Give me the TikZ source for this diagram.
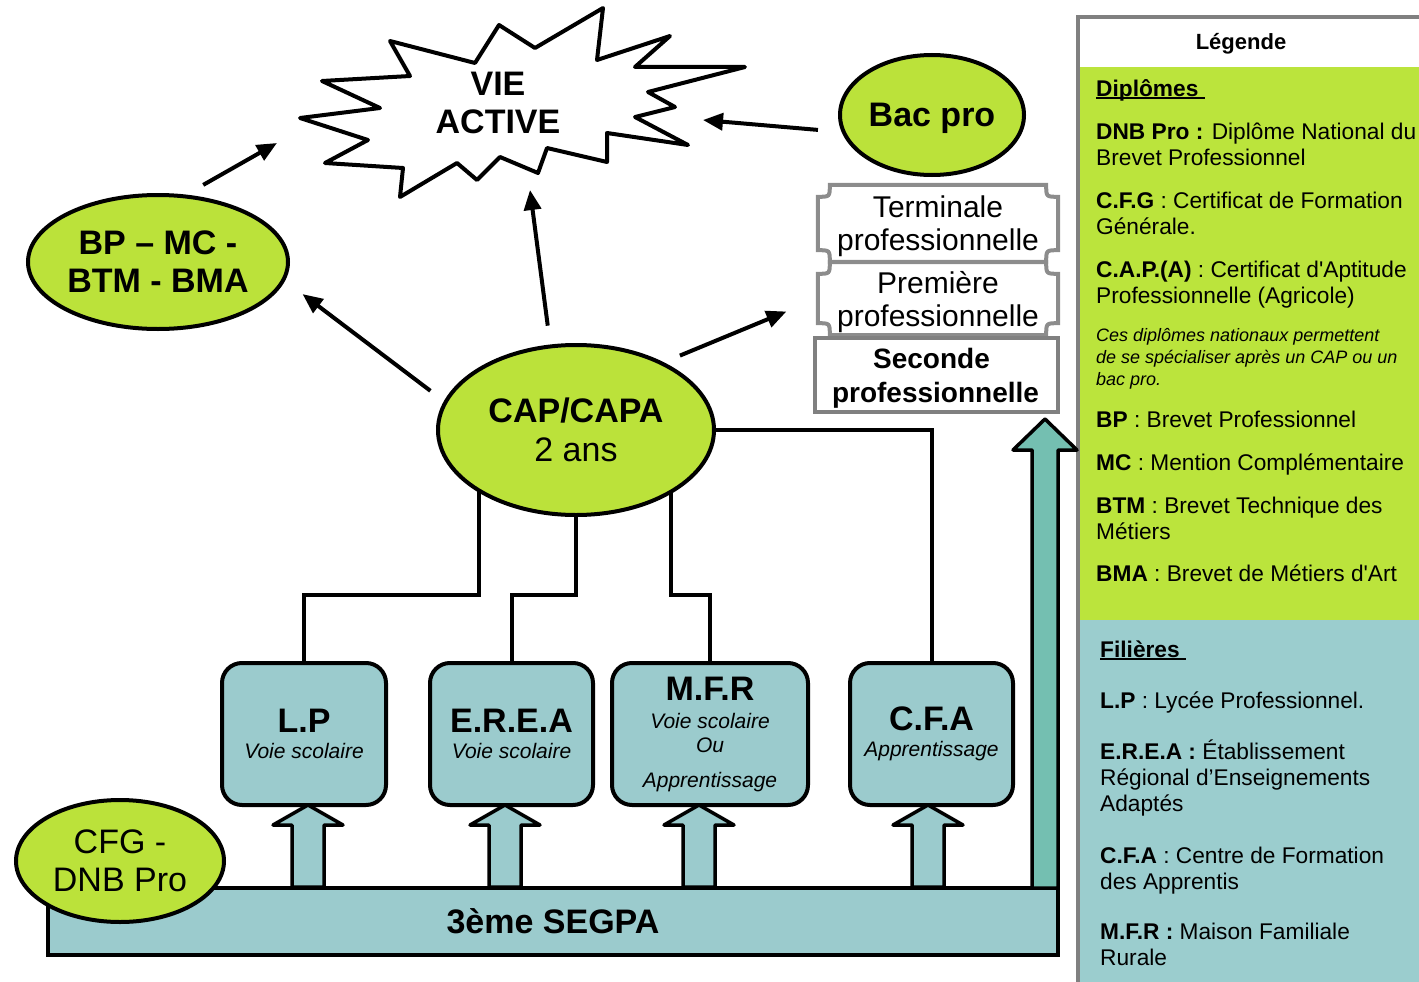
\documentclass[tikz,border=0pt]{standalone}
\usepackage{fontspec}
\setmainfont{Liberation Sans}
\usetikzlibrary{arrows.meta,shapes.geometric,calc}
\definecolor{lime}{RGB}{187,226,58}
\definecolor{tealbox}{RGB}{155,203,205}
\definecolor{tealarrow}{RGB}{116,191,177}
\definecolor{leggreen}{RGB}{187,228,60}
\definecolor{legblue}{RGB}{155,205,206}
\definecolor{bordgray}{RGB}{128,128,128}
\definecolor{plaqgray}{RGB}{140,140,140}
\newcommand\fsz[2]{\fontsize{#1}{#2}\selectfont}
\newcommand\myul[1]{\setbox0=\hbox{#1}\rlap{\rule[-3pt]{\wd0}{2pt}}\box0}
\begin{document}
\begin{tikzpicture}[x=1pt,y=-1pt,
 ell/.style={ellipse,draw=black,line width=4pt,fill=lime,inner sep=0pt,outer sep=0pt,align=center},
 box/.style={rectangle,rounded corners=20pt,draw=black,line width=4pt,fill=tealbox,inner sep=0pt,outer sep=0pt,align=center,minimum height=142pt},
 conn/.style={line width=4pt,line join=miter},
 arr/.style={line width=4pt,-{Triangle[length=20pt,width=17pt]}},
 blockarr/.style={draw=black,line width=3.5pt,fill=tealbox,line join=round},
 leg/.style={anchor=base west,inner sep=0pt,font=\fsz{22.7}{26}},
 legit/.style={anchor=base west,inner sep=0pt,font=\fsz{18}{21}\itshape},
 plaq/.style={draw=plaqgray,line width=4pt},
 uparr/.pic={\path[blockarr] (0,0) -- (35,20) -- (16,20) -- (16,82) -- (-16,82) -- (-16,20) -- (-35,20) -- cycle;}
]
\useasboundingbox (0,0) rectangle (1419,982);

% ---------- legend ----------
\fill[white] (1078,17) rectangle (1419,67);
\fill[leggreen] (1078,67) rectangle (1419,620);
\fill[legblue] (1078,620) rectangle (1419,982);
\draw[bordgray,line width=4pt] (1078,986) -- (1078,17) -- (1422,17);

\node[anchor=base,inner sep=0pt,font=\fsz{22}{26}\bfseries] (lgT) at (1241,49) {Légende};
\node[leg] (lg1) at (1096,96) {\bfseries\myul{Diplômes\ }};
\node[leg] (lg2) at (1096,139) {{\bfseries DNB Pro :} Diplôme National du};
\node[leg] (lg3) at (1096,165) {Brevet Professionnel};
\node[leg] (lg4) at (1096,208) {{\bfseries C.F.G} : Certificat de Formation};
\node[leg] (lg5) at (1096,234) {Générale.};
\node[leg] (lg6) at (1096,277) {{\bfseries C.A.P.(A)} : Certificat d\textquotesingle Aptitude};
\node[leg] (lg7) at (1096,303) {Professionnelle (Agricole)};
\node[legit] (lg8) at (1096,341.5) {Ces diplômes nationaux permettent};
\node[legit] (lg9) at (1096,363) {de se spécialiser après un CAP ou un};
\node[legit] (lg10) at (1096,385) {bac pro.};
\node[leg] (lg11) at (1096,427) {{\bfseries BP} : Brevet Professionnel};
\node[leg] (lg12) at (1096,470) {{\bfseries MC} : Mention Complémentaire};
\node[leg] (lg13) at (1096,513) {{\bfseries BTM} : Brevet Technique des};
\node[leg] (lg14) at (1096,539) {Métiers};
\node[leg] (lg15) at (1096,581) {{\bfseries BMA} : Brevet de Métiers d\textquotesingle Art};
\node[leg] (lg16) at (1100,657) {\bfseries\myul{Filières\ }};
\node[leg] (lg17) at (1100,708) {{\bfseries L.P} : Lycée Professionnel.};
\node[leg] (lg18) at (1100,759) {{\bfseries E.R.E.A :} Établissement};
\node[leg] (lg19) at (1100,785) {Régional d’Enseignements};
\node[leg] (lg20) at (1100,811) {Adaptés};
\node[leg] (lg21) at (1100,863) {{\bfseries C.F.A} : Centre de Formation};
\node[leg] (lg22) at (1100,889) {des Apprentis};
\node[leg] (lg23) at (1100,939) {{\bfseries M.F.R :} Maison Familiale};
\node[leg] (lg24) at (1100,965) {Rurale};

% ---------- starburst ----------
\draw[line width=4pt,line join=round,fill=white]
 (300,118) -- (380,108) -- (322,81) -- (410,76) -- (390,41) -- (475,63) -- (499,25) -- (535,48)
 -- (603,8) -- (597,60) -- (670,36) -- (635,67) -- (745,67) -- (648,92) -- (675,107) -- (635,117)
 -- (688,145) -- (607,133) -- (607,162) -- (547,148) -- (538,173) -- (500,157) -- (477,180)
 -- (457,163) -- (400,197) -- (403,168) -- (325,163) -- (368,140) -- cycle;
\node[font=\fsz{34}{38}\bfseries,align=center,inner sep=0pt] (vie) at (498,103) {VIE\\ACTIVE};
\coordinate (vieL) at (277,143);
\coordinate (vieB) at (530,190);
\coordinate (vieR) at (703,120);

% ---------- ellipses ----------
\node[ell,minimum width=260pt,minimum height=134pt,font=\fsz{34}{38}\bfseries] (bp) at (158,262) {BP – MC -\\BTM - BMA};
\node[ell,minimum width=184pt,minimum height=120pt,font=\fsz{34}{38}\bfseries,text depth=0pt] (bac) at (932,115) {Bac pro};
\node[ell,minimum width=276pt,minimum height=170pt,font=\fsz{34}{39}] (cap) at (576,430) {{\bfseries CAP/CAPA}\\2 ans};

% ---------- bac pro stack ----------
\node[rectangle,inner sep=0pt,minimum width=240pt,minimum height=77pt,align=center,font=\fsz{30}{33},text depth=0pt] (term) at (938,223.5) {Terminale\\professionnelle};
\node[rectangle,inner sep=0pt,minimum width=240pt,minimum height=73pt,align=center,font=\fsz{30}{33},text depth=0pt] (prem) at (938,298.5) {Première\\professionnelle};
\foreach \n in {term,prem}{
 \draw[plaq] ($(\n.north west)+(12,0)$) -- ($(\n.north east)+(-12,0)$)
   .. controls ($(\n.north east)+(-12,12)$) .. ($(\n.north east)+(0,12)$)
   -- ($(\n.south east)+(0,-12)$)
   .. controls ($(\n.south east)+(-12,-12)$) .. ($(\n.south east)+(-12,0)$)
   -- ($(\n.south west)+(12,0)$)
   .. controls ($(\n.south west)+(12,-12)$) .. ($(\n.south west)+(0,-12)$)
   -- ($(\n.north west)+(0,12)$)
   .. controls ($(\n.north west)+(12,12)$) .. ($(\n.north west)+(12,0)$) -- cycle;
}
\node[rectangle,draw=bordgray,line width=4pt,fill=white,minimum width=243pt,minimum height=74pt,inner sep=0pt,align=center,font=\fsz{28}{34}\bfseries,text depth=0pt] (sec) at (936.5,375) {\hspace*{-10pt}Seconde\\professionnelle\hspace*{2pt}};

% ---------- boxes ----------
\node[box,minimum width=164pt,font=\fsz{21}{26}] (lp) at (304,734) {{\fsz{34}{26}\bfseries L.P}\\\itshape Voie scolaire};
\node[box,minimum width=163pt,font=\fsz{21}{26}] (erea) at (511.5,734) {{\fsz{34}{26}\bfseries E.R.E.A}\\\itshape Voie scolaire};
\node[box,minimum width=196pt,font=\fsz{21}{24}] (mfr) at (710,734) {{\fsz{34}{24}\bfseries M.F.R}\\[4pt]\itshape Voie scolaire\\\itshape Ou\\[11pt]\itshape Apprentissage};
\node[box,minimum width=163pt,font=\fsz{21}{26}] (cfa) at (931.5,734) {{\fsz{34}{26}\bfseries C.F.A}\\\itshape Apprentissage};

% ---------- block arrows to boxes ----------
\pic at ($(lp.south)+(4,0)$) {uparr};
\pic at ($(erea.south)+(-6.5,0)$) {uparr};
\pic at ($(mfr.south)+(-11,0)$) {uparr};
\pic at ($(cfa.south)+(-3.5,0)$) {uparr};

% ---------- bottom bar ----------
\node[rectangle,draw=black,line width=4pt,fill=tealbox,minimum width=1010pt,minimum height=67pt,inner sep=0pt,outer sep=0pt,font=\fsz{34}{38}\bfseries,text depth=0pt] (segpa) at (553,921.5) {3ème SEGPA};
\path[blockarr,fill=tealarrow] (segpa.north east) -- ++(0,-438) -- ++(19,0) -- ++(-32,-31) -- ++(-32,31) -- ++(19,0) -- ++(0,438) -- cycle;
\node[ell,minimum width=208pt,minimum height=122pt,font=\fsz{34}{38}] (cfg) at (120,861) {CFG -\\DNB Pro};

% ---------- connectors ----------
\coordinate (lev) at (0,595);
\draw[conn] (cap.212) -- (cap.212 |- lev) -| (lp.north);
\draw[conn] (cap.south) -- (cap.south |- lev) -| (erea.north);
\draw[conn] (cap.-33) -- (cap.-33 |- lev) -| (mfr.north);
\draw[conn] (cap.east) -| (cfa.north);

\draw[arr,shorten <=19pt,shorten >=24pt] (cap.168) -- (bp.-8.5);
\draw[arr,shorten <=21pt] (cap.107) -- (vieB);
\draw[arr,shorten <=20pt,shorten >=34pt] (cap.38) -- (prem.west);
\draw[arr,shorten <=26pt] (bac.191) -- (vieR);
\draw[arr,shorten <=23pt] (bp.69) -- (vieL);
\end{tikzpicture}
\end{document}
